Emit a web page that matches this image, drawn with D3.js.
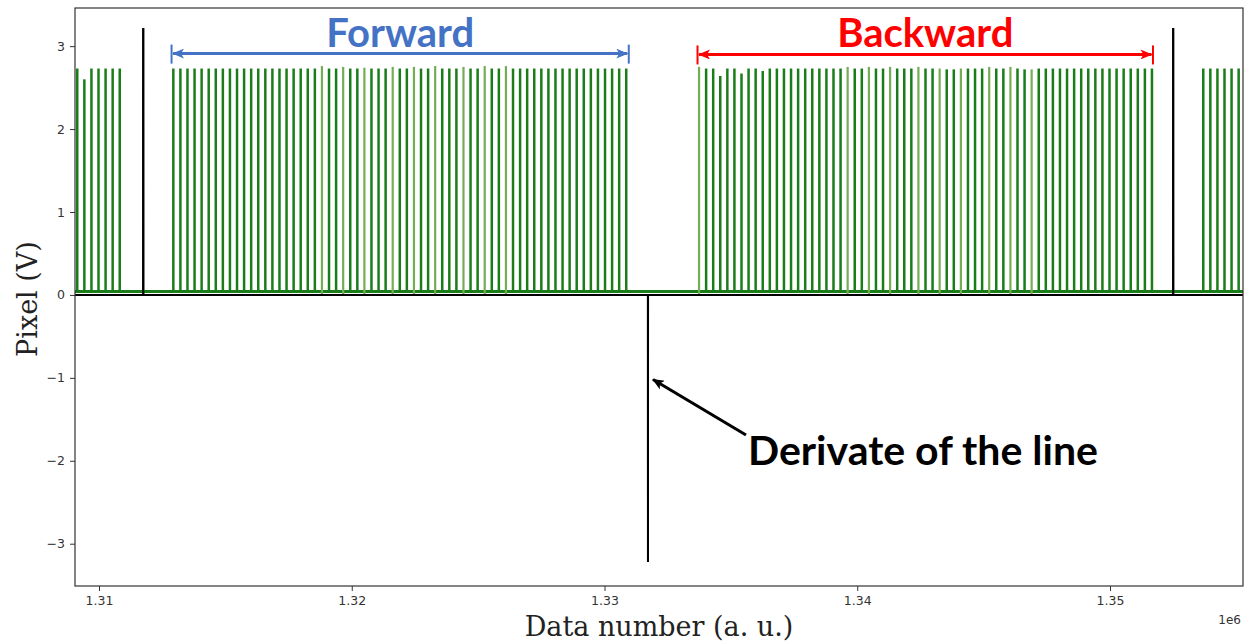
<!DOCTYPE html>
<html>
<head>
<meta charset="utf-8">
<script src="https://cdn.jsdelivr.net/npm/d3@7"></script>
<style>
  html, body { margin: 0; padding: 0; background: #fff; }
  svg { display: block; }
</style>
</head>
<body>
<svg id="chart" width="1254" height="643"></svg>
<script>
// ---- data -------------------------------------------------------------
const xTicks = [1310000, 1320000, 1330000, 1340000, 1350000];
const yTicks = [-3, -2, -1, 0, 1, 2, 3];
const xDomain = [1309050, 1355262];
const yDomain = [-3.51, 3.46];

// resting level of the pixel signal (V)
const pixelBaseline = 0.04;

// pulses before the forward sweep
const leftPulseX = [1309140, 1309420, 1309700, 1309980, 1310260, 1310540, 1310820];
const leftPulseV = [2.73, 2.60, 2.73, 2.73, 2.73, 2.73, 2.73];

// forward sweep pulses
const fwdPulseX = [
  1312940, 1313220, 1313500, 1313780, 1314060, 1314340, 1314620, 1314900, 1315180, 1315460,
  1315740, 1316020, 1316300, 1316580, 1316860, 1317140, 1317420, 1317700, 1317980, 1318260,
  1318540, 1318820, 1319100, 1319380, 1319660, 1319940, 1320220, 1320500, 1320780, 1321060,
  1321340, 1321620, 1321900, 1322180, 1322460, 1322740, 1323020, 1323300, 1323580, 1323860,
  1324140, 1324420, 1324700, 1324980, 1325260, 1325540, 1325820, 1326100, 1326380, 1326660,
  1326940, 1327220, 1327500, 1327780, 1328060, 1328340, 1328620, 1328900, 1329180, 1329460,
  1329740, 1330020, 1330300, 1330580, 1330860
];
const fwdPulseV = [
  2.73, 2.73, 2.73, 2.73, 2.73, 2.73, 2.73, 2.73, 2.73, 2.73,
  2.73, 2.73, 2.73, 2.73, 2.73, 2.73, 2.73, 2.73, 2.73, 2.73,
  2.73, 2.76, 2.73, 2.73, 2.75, 2.73, 2.73, 2.74, 2.73, 2.73,
  2.73, 2.75, 2.73, 2.73, 2.75, 2.73, 2.73, 2.76, 2.73, 2.73,
  2.73, 2.75, 2.73, 2.73, 2.76, 2.73, 2.73, 2.76, 2.73, 2.73,
  2.73, 2.73, 2.73, 2.73, 2.73, 2.73, 2.73, 2.73, 2.73, 2.73,
  2.73, 2.73, 2.73, 2.73, 2.73
];
// pulses drawn in the lighter trace
const fwdLight = [21, 24, 27, 31, 34, 37, 41, 44, 47];

// backward sweep pulses
const bwdPulseX = [
  1333740, 1334020, 1334300, 1334580, 1334860, 1335140, 1335420, 1335700, 1335980, 1336260,
  1336540, 1336820, 1337100, 1337380, 1337660, 1337940, 1338220, 1338500, 1338780, 1339060,
  1339340, 1339620, 1339900, 1340180, 1340460, 1340740, 1341020, 1341300, 1341580, 1341860,
  1342140, 1342420, 1342700, 1342980, 1343260, 1343540, 1343820, 1344100, 1344380, 1344660,
  1344940, 1345220, 1345500, 1345780, 1346060, 1346340, 1346620, 1346900, 1347180, 1347460,
  1347740, 1348020, 1348300, 1348580, 1348860, 1349140, 1349420, 1349700, 1349980, 1350260,
  1350540, 1350820, 1351100, 1351380, 1351660
];
const bwdPulseV = [
  2.75, 2.73, 2.73, 2.64, 2.73, 2.73, 2.67, 2.73, 2.73, 2.70,
  2.73, 2.73, 2.73, 2.73, 2.73, 2.73, 2.73, 2.73, 2.73, 2.73,
  2.73, 2.75, 2.73, 2.73, 2.75, 2.73, 2.73, 2.75, 2.73, 2.73,
  2.73, 2.75, 2.73, 2.73, 2.73, 2.72, 2.72, 2.73, 2.73, 2.73,
  2.73, 2.75, 2.73, 2.73, 2.75, 2.73, 2.72, 2.72, 2.73, 2.73,
  2.73, 2.73, 2.73, 2.73, 2.73, 2.73, 2.73, 2.73, 2.73, 2.73,
  2.73, 2.73, 2.73, 2.73, 2.73
];
const bwdLight = [0, 21, 24, 27, 31, 34, 37, 41, 44, 47];

// pulses after the backward sweep
const rightPulseX = [1353690, 1353970, 1354250, 1354530, 1354810, 1355090];
const rightPulseV = [2.73, 2.73, 2.73, 2.73, 2.73, 2.73];

// derivative of the line signal
const derivX = [1309050, 1311748, 1311750, 1311752, 1331718, 1331720, 1331722, 1352498, 1352500, 1352502, 1355262];
const derivV = [0, 0, 3.22, 0, 0, -3.22, 0, 0, 3.22, 0, 0];

// ---- layout -----------------------------------------------------------
const W = 1254, H = 643;
const margin = { left: 75, right: 11, top: 8, bottom: 57 };
const plotW = W - margin.left - margin.right;
const plotH = H - margin.top - margin.bottom;

const darkGreen = "#1a7d1a";
const lightGreen = "#74ad55";
const blue = "#4472c4";
const red = "#ff0000";

const svg = d3.select("#chart");
const x = d3.scaleLinear().domain(xDomain).range([margin.left, margin.left + plotW]);
const y = d3.scaleLinear().domain(yDomain).range([margin.top + plotH, margin.top]);

// ---- plot contents (clipped to the axes box) --------------------------
svg.append("defs").append("clipPath").attr("id", "plotClip")
  .append("rect")
  .attr("x", margin.left).attr("y", margin.top)
  .attr("width", plotW).attr("height", plotH);

const plot = svg.append("g").attr("clip-path", "url(#plotClip)");

// collect pulses with their colour
const pulses = [];
leftPulseX.forEach((v, i) => pulses.push({ x: v, v: leftPulseV[i], light: false }));
fwdPulseX.forEach((v, i) => pulses.push({ x: v, v: fwdPulseV[i], light: fwdLight.includes(i) }));
bwdPulseX.forEach((v, i) => pulses.push({ x: v, v: bwdPulseV[i], light: bwdLight.includes(i) }));
rightPulseX.forEach((v, i) => pulses.push({ x: v, v: rightPulseV[i], light: false }));

// black derivative trace along zero (drawn under the green signal)
const derivLine = d3.line().x((d, i) => x(derivX[i])).y(d => y(d));
plot.append("path")
  .datum(derivV)
  .attr("d", derivLine)
  .attr("fill", "none")
  .attr("stroke", "#000")
  .attr("stroke-width", 2);

// green resting level
plot.append("line")
  .attr("x1", x(xDomain[0])).attr("x2", x(xDomain[1]))
  .attr("y1", y(pixelBaseline)).attr("y2", y(pixelBaseline))
  .attr("stroke", darkGreen)
  .attr("stroke-width", 3);

// pulses
plot.selectAll("line.pulse")
  .data(pulses)
  .join("line")
  .attr("class", "pulse")
  .attr("x1", d => x(d.x)).attr("x2", d => x(d.x))
  .attr("y1", d => y(d.light ? 0 : pixelBaseline))
  .attr("y2", d => y(d.v))
  .attr("stroke", d => d.light ? lightGreen : darkGreen)
  .attr("stroke-width", d => d.light ? 2.2 : 2.5);

// derivative spikes on top
plot.append("path")
  .datum(derivV)
  .attr("d", derivLine)
  .attr("fill", "none")
  .attr("stroke", "#000")
  .attr("stroke-width", 2);

// ---- axes -------------------------------------------------------------
const xAxis = d3.axisBottom(x)
  .tickValues(xTicks)
  .tickFormat(d => d3.format(".2f")(d / 1e6))
  .tickSize(5).tickPadding(5);
const yAxis = d3.axisLeft(y)
  .tickValues(yTicks)
  .tickFormat(d3.format("d"))
  .tickSize(5).tickPadding(5);

const gx = svg.append("g")
  .attr("transform", `translate(0,${margin.top + plotH})`)
  .call(xAxis);
const gy = svg.append("g")
  .attr("transform", `translate(${margin.left},0)`)
  .call(yAxis);

[gx, gy].forEach(g => {
  g.select(".domain").remove();
  g.selectAll(".tick line").attr("stroke", "#333").attr("stroke-width", 1);
  g.selectAll(".tick text")
    .attr("fill", "#333")
    .style("font-family", "'DejaVu Sans', sans-serif")
    .style("font-size", "12.5px");
});

// axes frame
svg.append("rect")
  .attr("x", margin.left).attr("y", margin.top)
  .attr("width", plotW).attr("height", plotH)
  .attr("fill", "none")
  .attr("stroke", "#333")
  .attr("stroke-width", 1.2);

// offset label
svg.append("text")
  .attr("x", margin.left + plotW - 2)
  .attr("y", 624)
  .attr("text-anchor", "end")
  .attr("fill", "#333")
  .style("font-family", "'DejaVu Sans', sans-serif")
  .style("font-size", "12px")
  .text("1e6");

// axis titles
svg.append("text")
  .attr("x", 659).attr("y", 636)
  .attr("text-anchor", "middle")
  .attr("fill", "#222")
  .style("font-family", "'DejaVu Serif', serif")
  .style("font-size", "27px")
  .text("Data number (a. u.)");

svg.append("text")
  .attr("transform", "translate(37,299) rotate(-90)")
  .attr("text-anchor", "middle")
  .attr("fill", "#222")
  .style("font-family", "'DejaVu Serif', serif")
  .style("font-size", "27px")
  .text("Pixel (V)");

// ---- annotations ------------------------------------------------------
const defs = svg.select("defs");
function headMarker(id, color) {
  defs.append("marker")
    .attr("id", id)
    .attr("viewBox", "0 0 12 10")
    .attr("refX", 11).attr("refY", 5)
    .attr("markerWidth", 12).attr("markerHeight", 10)
    .attr("markerUnits", "userSpaceOnUse")
    .attr("orient", "auto-start-reverse")
    .append("path")
    .attr("d", "M0,0 L12,5 L0,10 L3,5 Z")
    .attr("fill", color);
}
headMarker("headBlue", blue);
headMarker("headRed", red);
headMarker("headBlack", "#000");

function spanArrow(x0, x1, yv, color, markerId, label) {
  const g = svg.append("g");
  const px0 = x(x0), px1 = x(x1), py = y(yv);
  g.append("line")
    .attr("x1", px0 + 1.5).attr("x2", px1 - 1.5)
    .attr("y1", py).attr("y2", py)
    .attr("stroke", color).attr("stroke-width", 3)
    .attr("marker-start", `url(#${markerId})`)
    .attr("marker-end", `url(#${markerId})`);
  [px0, px1].forEach(px => g.append("line")
    .attr("x1", px).attr("x2", px)
    .attr("y1", py - 9).attr("y2", py + 10)
    .attr("stroke", color).attr("stroke-width", 2));
  g.append("text")
    .attr("x", (px0 + px1) / 2).attr("y", py - 7)
    .attr("text-anchor", "middle")
    .attr("fill", color)
    .style("font-family", "Lato, 'Open Sans', sans-serif")
    .style("font-weight", 700)
    .style("font-size", "40px")
    .text(label);
}
spanArrow(1312870, 1330960, 2.91, blue, "headBlue", "Forward");
spanArrow(1333680, 1351700, 2.90, red, "headRed", "Backward");

// pointer to the derivative spike
svg.append("line")
  .attr("x1", 746).attr("y1", 435)
  .attr("x2", x(1331720) + 5).attr("y2", y(-1.02))
  .attr("stroke", "#000").attr("stroke-width", 3)
  .attr("marker-end", "url(#headBlack)");

svg.append("text")
  .attr("x", 748).attr("y", 465)
  .attr("fill", "#000")
  .style("font-family", "Lato, 'Open Sans', sans-serif")
  .style("font-weight", 700)
  .style("font-size", "41px")
  .text("Derivate of the line");
</script>
</body>
</html>
